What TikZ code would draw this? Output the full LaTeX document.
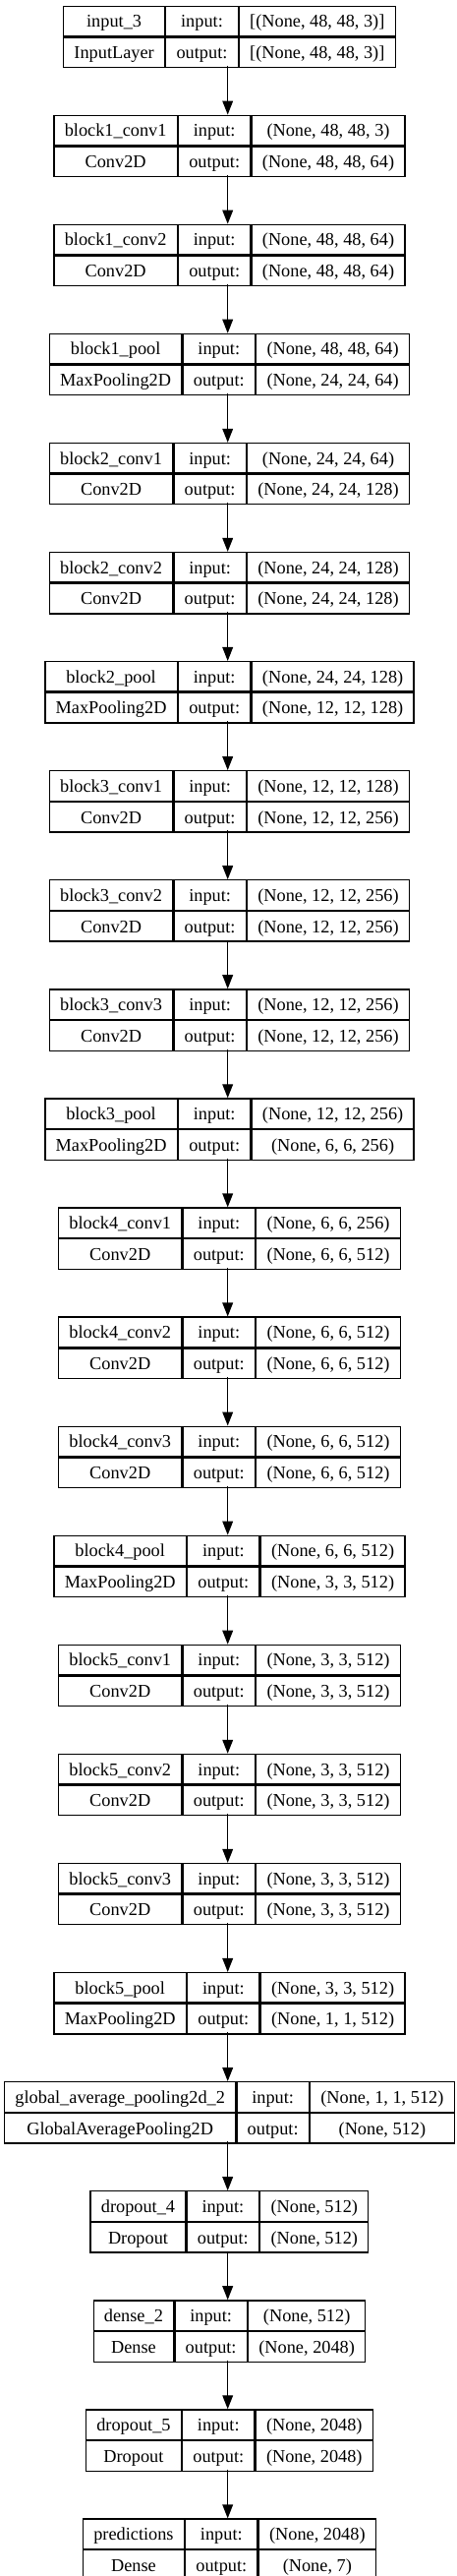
\documentclass[tikz,border=0pt]{standalone}
\usepackage{fontspec}
\setmainfont{Liberation Serif}
\usepackage{tikz}
\usetikzlibrary{positioning,arrows.meta}

\newlength\colA \newlength\colB \newlength\colC \newlength\tmpw
\newcommand{\kfont}{\fontsize{18.3}{22}\selectfont}
\font\kmeas="Liberation Serif" at 18.3pt
% #1 name, #2 placement, #3 layer, #4 class, #5 input shape, #6 output shape
\newcommand{\layerbox}[6]{%
\settowidth{\colA}{\kmeas #3}\settowidth{\tmpw}{\kmeas #4}\ifdim\tmpw>\colA \colA=\tmpw\fi
\settowidth{\colB}{\kmeas output:}
\settowidth{\colC}{\kmeas #5}\settowidth{\tmpw}{\kmeas #6}\ifdim\tmpw>\colC \colC=\tmpw\fi
\addtolength{\colA}{21.5pt}\addtolength{\colB}{21.5pt}\addtolength{\colC}{21.5pt}
\node (#1) [shapebox, #2, minimum width=\colA+\colB+\colC] {};
\node (#1-n) at (#1.north west) [fieldbox, anchor=north west, minimum width=\colA] {#3};
\node (#1-i) [fieldbox, right=0pt of #1-n, minimum width=\colB] {input:};
\node (#1-s) [fieldbox, right=0pt of #1-i, minimum width=\colC] {#5};
\node (#1-c) [fieldbox, below=0pt of #1-n, minimum width=\colA] {#4};
\node (#1-o) [fieldbox, right=0pt of #1-c, minimum width=\colB] {output:};
\node (#1-t) [fieldbox, right=0pt of #1-o, minimum width=\colC] {#6};
}

\begin{document}
\begin{tikzpicture}[x=1pt, y=1pt, >={Triangle[length=14pt,width=10.7pt]},
  shapebox/.style={inner sep=0pt, minimum height=61pt},
  fieldbox/.style={draw, line width=1.3pt, inner sep=0pt, minimum height=30.5pt, text height=16.8pt, text depth=4.2pt, font=\kfont},
  link/.style={->, line width=1.3pt}]
\useasboundingbox (0,0) rectangle (464,-2619);

\layerbox{input3}{at={(231.7,-36.2)}}{input\_3}{InputLayer}{[(None, 48, 48, 3)]}{[(None, 48, 48, 3)]}
\layerbox{b1conv1}{below=49.68pt of input3}{block1\_conv1}{Conv2D}{(None, 48, 48, 3)}{(None, 48, 48, 64)}
\layerbox{b1conv2}{below=49.68pt of b1conv1}{block1\_conv2}{Conv2D}{(None, 48, 48, 64)}{(None, 48, 48, 64)}
\layerbox{b1pool}{below=49.68pt of b1conv2}{block1\_pool}{MaxPooling2D}{(None, 48, 48, 64)}{(None, 24, 24, 64)}
\layerbox{b2conv1}{below=49.68pt of b1pool}{block2\_conv1}{Conv2D}{(None, 24, 24, 64)}{(None, 24, 24, 128)}
\layerbox{b2conv2}{below=49.68pt of b2conv1}{block2\_conv2}{Conv2D}{(None, 24, 24, 128)}{(None, 24, 24, 128)}
\layerbox{b2pool}{below=49.68pt of b2conv2}{block2\_pool}{MaxPooling2D}{(None, 24, 24, 128)}{(None, 12, 12, 128)}
\layerbox{b3conv1}{below=49.68pt of b2pool}{block3\_conv1}{Conv2D}{(None, 12, 12, 128)}{(None, 12, 12, 256)}
\layerbox{b3conv2}{below=49.68pt of b3conv1}{block3\_conv2}{Conv2D}{(None, 12, 12, 256)}{(None, 12, 12, 256)}
\layerbox{b3conv3}{below=49.68pt of b3conv2}{block3\_conv3}{Conv2D}{(None, 12, 12, 256)}{(None, 12, 12, 256)}
\layerbox{b3pool}{below=49.68pt of b3conv3}{block3\_pool}{MaxPooling2D}{(None, 12, 12, 256)}{(None, 6, 6, 256)}
\layerbox{b4conv1}{below=49.68pt of b3pool}{block4\_conv1}{Conv2D}{(None, 6, 6, 256)}{(None, 6, 6, 512)}
\layerbox{b4conv2}{below=49.68pt of b4conv1}{block4\_conv2}{Conv2D}{(None, 6, 6, 512)}{(None, 6, 6, 512)}
\layerbox{b4conv3}{below=49.68pt of b4conv2}{block4\_conv3}{Conv2D}{(None, 6, 6, 512)}{(None, 6, 6, 512)}
\layerbox{b4pool}{below=49.68pt of b4conv3}{block4\_pool}{MaxPooling2D}{(None, 6, 6, 512)}{(None, 3, 3, 512)}
\layerbox{b5conv1}{below=49.68pt of b4pool}{block5\_conv1}{Conv2D}{(None, 3, 3, 512)}{(None, 3, 3, 512)}
\layerbox{b5conv2}{below=49.68pt of b5conv1}{block5\_conv2}{Conv2D}{(None, 3, 3, 512)}{(None, 3, 3, 512)}
\layerbox{b5conv3}{below=49.68pt of b5conv2}{block5\_conv3}{Conv2D}{(None, 3, 3, 512)}{(None, 3, 3, 512)}
\layerbox{b5pool}{below=49.68pt of b5conv3}{block5\_pool}{MaxPooling2D}{(None, 3, 3, 512)}{(None, 1, 1, 512)}
\layerbox{gap}{below=49.68pt of b5pool}{global\_average\_pooling2d\_2}{GlobalAveragePooling2D}{(None, 1, 1, 512)}{(None, 512)}
\layerbox{drop4}{below=49.68pt of gap}{dropout\_4}{Dropout}{(None, 512)}{(None, 512)}
\layerbox{dense2}{below=49.68pt of drop4}{dense\_2}{Dense}{(None, 512)}{(None, 2048)}
\layerbox{drop5}{below=49.68pt of dense2}{dropout\_5}{Dropout}{(None, 2048)}{(None, 2048)}
\layerbox{pred}{below=49.68pt of drop5}{predictions}{Dense}{(None, 2048)}{(None, 7)}

% connectors
\draw[link] (input3) -- (b1conv1);
\draw[link] (b1conv1) -- (b1conv2);
\draw[link] (b1conv2) -- (b1pool);
\draw[link] (b1pool) -- (b2conv1);
\draw[link] (b2conv1) -- (b2conv2);
\draw[link] (b2conv2) -- (b2pool);
\draw[link] (b2pool) -- (b3conv1);
\draw[link] (b3conv1) -- (b3conv2);
\draw[link] (b3conv2) -- (b3conv3);
\draw[link] (b3conv3) -- (b3pool);
\draw[link] (b3pool) -- (b4conv1);
\draw[link] (b4conv1) -- (b4conv2);
\draw[link] (b4conv2) -- (b4conv3);
\draw[link] (b4conv3) -- (b4pool);
\draw[link] (b4pool) -- (b5conv1);
\draw[link] (b5conv1) -- (b5conv2);
\draw[link] (b5conv2) -- (b5conv3);
\draw[link] (b5conv3) -- (b5pool);
\draw[link] (b5pool) -- (gap);
\draw[link] (gap) -- (drop4);
\draw[link] (drop4) -- (dense2);
\draw[link] (dense2) -- (drop5);
\draw[link] (drop5) -- (pred);
\end{tikzpicture}
\end{document}
